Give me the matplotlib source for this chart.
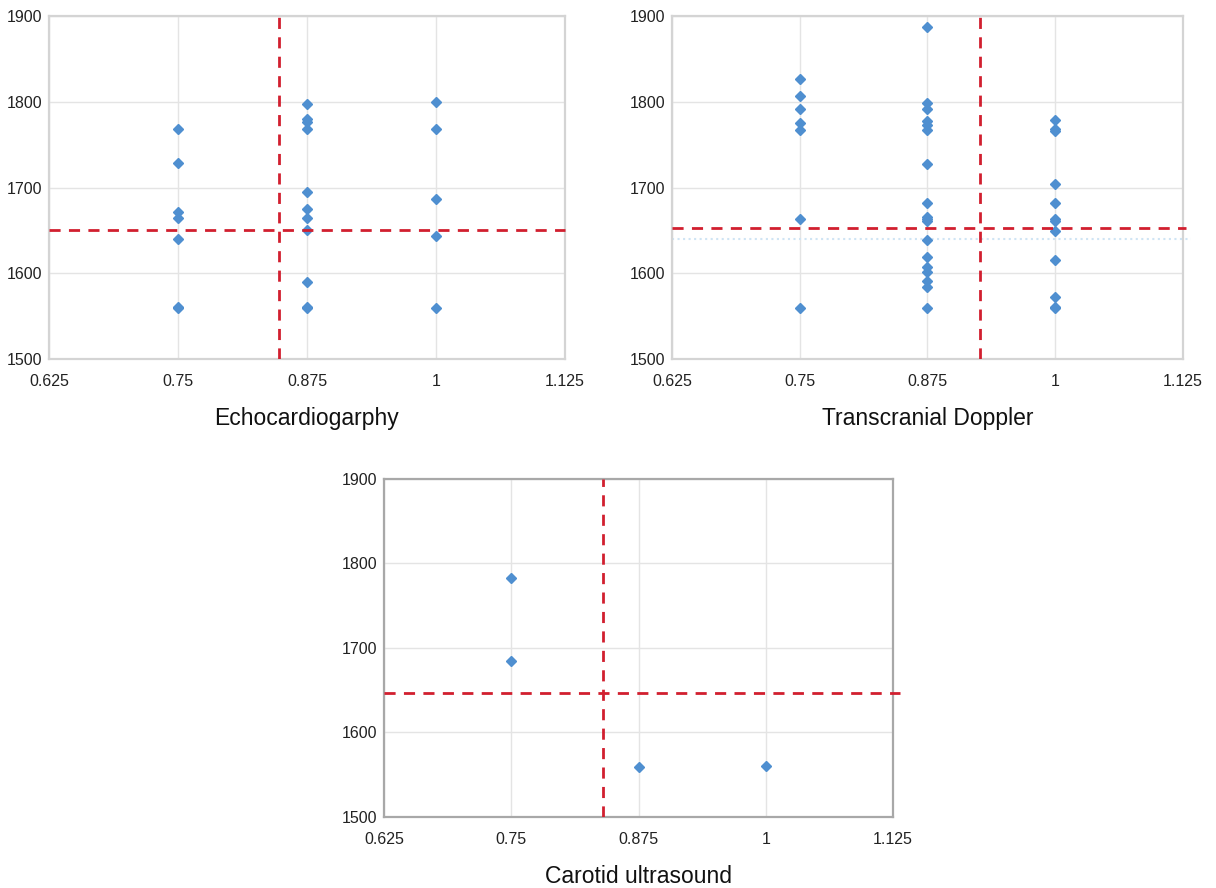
import matplotlib
matplotlib.use("Agg")
import matplotlib.pyplot as plt
import numpy as np

plt.rcParams['font.family'] = ['Liberation Sans', 'DejaVu Sans']

# Echocardiography
echo_x = [0.75] * 7 + [0.875] * 11 + [1.0] * 5
echo_y = [1768, 1728, 1672, 1664, 1640, 1561, 1560,
          1797, 1780, 1776, 1768, 1695, 1675, 1664, 1650, 1590, 1561, 1560,
          1800, 1768, 1687, 1644, 1560]
echo_vline = 0.848
echo_hline = 1650

# Transcranial Doppler
tcd_x = [0.75] * 7 + [0.875] * 18 + [1.0] * 12
tcd_y = [1827, 1807, 1791, 1775, 1767, 1663, 1560,
         1887, 1798, 1791, 1777, 1773, 1767, 1727, 1682, 1666, 1663, 1661,
         1639, 1619, 1607, 1601, 1591, 1584, 1560,
         1779, 1768, 1766, 1704, 1682, 1663, 1661, 1649, 1615, 1572, 1561, 1559]
tcd_vline = 0.926
tcd_hline = 1653
tcd_faint = 1640

# Carotid ultrasound
car_x = [0.75, 0.75, 0.875, 1.0]
car_y = [1783, 1684, 1559, 1560]
car_vline = 0.840
car_hline = 1647

xticks = [0.625, 0.75, 0.875, 1.0, 1.125]
xtick_labels = ['0.625', '0.75', '0.875', '1', '1.125']
yticks = [1500, 1600, 1700, 1800, 1900]

blue = '#4f8fd0'
red = '#d11f2f'

fig = plt.figure(figsize=(12.16, 8.88), dpi=100)
ax1 = fig.add_axes([0.0403, 0.5957, 0.4243, 0.3863])
ax2 = fig.add_axes([0.5526, 0.5957, 0.4202, 0.3863])
ax3 = fig.add_axes([0.3158, 0.0800, 0.4186, 0.3806])


def style(ax, xs, ys, vx, hy, title, frame_color, hline_ext=1.125):
    ax.set_xlim(0.625, 1.125)
    ax.set_ylim(1500, 1900)
    ax.set_xticks(xticks)
    ax.set_xticklabels(xtick_labels)
    ax.set_yticks(yticks)
    ax.tick_params(length=0, labelsize=11.5, colors='#222222')
    ax.tick_params(axis='x', pad=11)
    ax.tick_params(axis='y', pad=5)
    ax.grid(True, color='#e4e4e4', linewidth=1)
    ax.set_axisbelow(True)
    for s in ax.spines.values():
        s.set_color(frame_color)
        s.set_linewidth(1.6)
    ax.plot(xs, ys, linestyle='none', marker='D', markersize=5.5,
            color=blue, zorder=3)
    ax.plot([vx, vx], [1500, 1900], color=red, linewidth=2,
            dashes=(4, 3), zorder=4)
    ax.plot([0.625, hline_ext], [hy, hy], color=red, linewidth=2,
            dashes=(4, 3), zorder=4, clip_on=False)
    ax.set_xlabel(title, fontsize=16.5, labelpad=13, color='#111111')


style(ax1, echo_x, echo_y, echo_vline, echo_hline, 'Echocardiogarphy', '#d4d4d4')
style(ax2, tcd_x, tcd_y, tcd_vline, tcd_hline, 'Transcranial Doppler', '#d4d4d4',
      hline_ext=1.128)
ax2.plot([0.625, 1.133], [tcd_faint, tcd_faint], color='#cfe4f4', linewidth=1.5,
         linestyle=':', zorder=2, clip_on=False)
style(ax3, car_x, car_y, car_vline, car_hline, 'Carotid ultrasound', '#a8a8a8',
      hline_ext=1.132)

fig.savefig('out.png', dpi=100)
